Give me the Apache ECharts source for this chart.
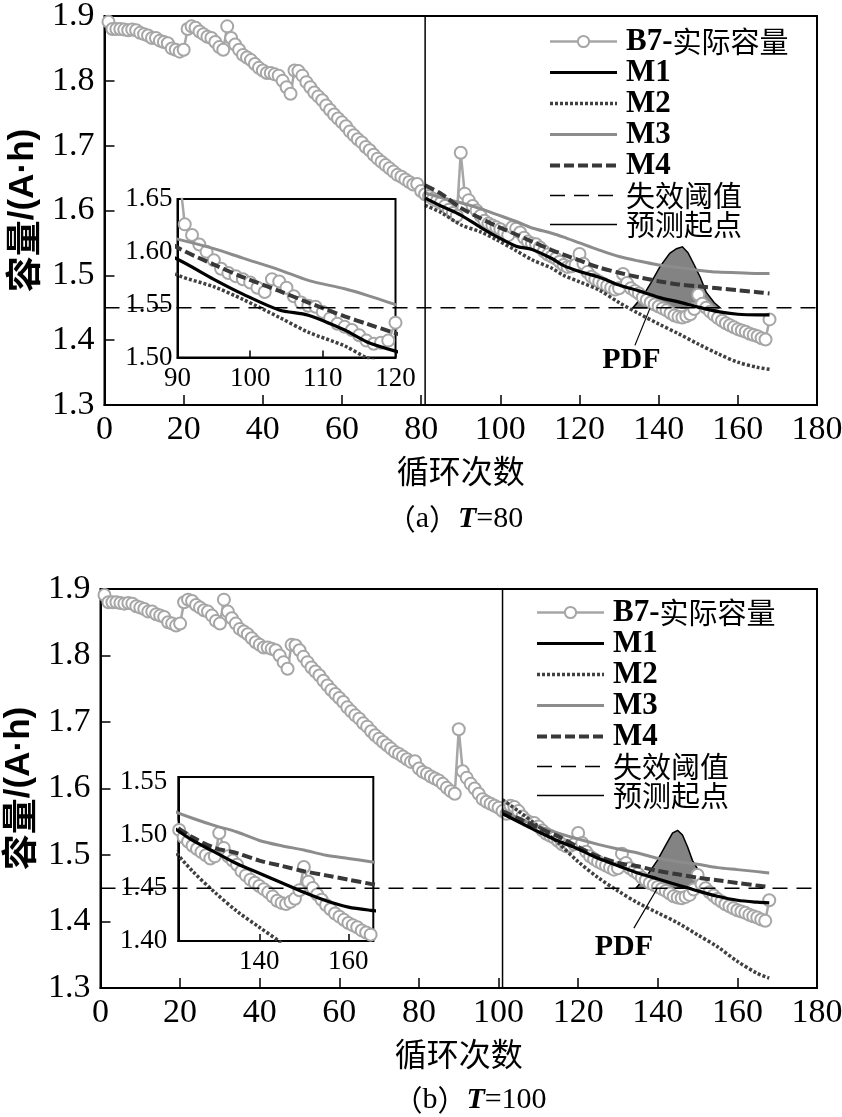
<!DOCTYPE html>
<html><head><meta charset="utf-8">
<script src="https://cdn.jsdelivr.net/npm/echarts@6.0.0/dist/echarts.min.js"></script>
<style>html,body{margin:0;padding:0;background:#fff}#c{width:842px;height:1117px}</style>
</head><body><div id="c"></div>
<script>
// ---- data ----
const names = ['B7-实际容量','M1','M2','M3','M4','失效阈值','预测起点'];
const threshold = 1.45;
const startA = 81, startB = 101;
// measured capacity of B7, cycles 1..168
const capacity = [
1.891,1.880,1.880,1.880,1.879,1.878,1.879,1.878,1.874,1.872,
1.870,1.866,1.866,1.862,1.860,1.858,1.850,1.848,1.845,1.848,
1.880,1.884,1.882,1.876,1.872,1.868,1.866,1.860,1.852,1.848,
1.884,1.866,1.856,1.848,1.840,1.836,1.832,1.826,1.820,1.816,
1.812,1.812,1.810,1.808,1.800,1.790,1.780,1.816,1.815,1.808,
1.798,1.790,1.782,1.776,1.770,1.762,1.755,1.748,1.742,1.736,
1.730,1.722,1.716,1.710,1.705,1.698,1.693,1.686,1.680,1.675,
1.670,1.665,1.660,1.655,1.652,1.648,1.644,1.640,1.641,1.630,
1.625,1.622,1.618,1.615,1.612,1.607,1.601,1.596,1.592,1.689,
1.626,1.616,1.607,1.600,1.592,1.584,1.580,1.577,1.574,1.571,
1.566,1.562,1.574,1.572,1.566,1.558,1.552,1.549,1.548,1.543,
1.537,1.532,1.529,1.526,1.521,1.516,1.513,1.514,1.516,1.533,
1.518,1.505,1.498,1.494,1.490,1.487,1.484,1.481,1.478,1.480,
1.502,1.488,1.480,1.476,1.472,1.466,1.462,1.458,1.455,1.452,
1.449,1.446,1.442,1.438,1.436,1.435,1.437,1.440,1.448,1.470,
1.456,1.450,1.444,1.439,1.434,1.430,1.426,1.423,1.420,1.417,
1.415,1.413,1.410,1.408,1.406,1.403,1.401,1.432];

// (a) T=80 predictions
const predCyclesA = [81,85,90,95,99,104,108,113,116,120,125,130,135,140,145,150,155,160,165,168];
const m1A = [1.619,1.607,1.593,1.574,1.560,1.545,1.540,1.526,1.515,1.506,1.497,1.485,1.476,1.466,1.459,1.451,1.444,1.440,1.439,1.439];
const m2A = [1.608,1.597,1.578,1.567,1.555,1.538,1.524,1.511,1.500,1.490,1.477,1.458,1.441,1.425,1.410,1.394,1.379,1.366,1.358,1.355];
const m3A = [1.627,1.620,1.612,1.603,1.594,1.583,1.573,1.565,1.559,1.550,1.539,1.529,1.522,1.516,1.512,1.508,1.505,1.504,1.503,1.503];
const m4A = [1.639,1.626,1.604,1.588,1.576,1.563,1.552,1.539,1.532,1.523,1.512,1.504,1.497,1.491,1.486,1.483,1.480,1.477,1.474,1.472];
const pdfCyclesA = [133.5,136,138,140.3,142.8,144.5,146,147.4,149,150.5,152,154,155.5];
const pdfHeightA = [0,0.018,0.038,0.063,0.084,0.091,0.094,0.085,0.066,0.047,0.024,0.008,0];

// (b) T=100 predictions
const predCyclesB = [101,105,110,115,120,125,130,135,140,145,150,155,160,165,168];
const m1B = [1.562,1.550,1.535,1.521,1.509,1.495,1.484,1.473,1.464,1.455,1.446,1.438,1.432,1.429,1.428];
const m2B = [1.583,1.566,1.543,1.518,1.490,1.466,1.446,1.428,1.413,1.398,1.380,1.362,1.340,1.322,1.315];
const m3B = [1.565,1.555,1.543,1.533,1.524,1.516,1.509,1.503,1.495,1.490,1.486,1.481,1.478,1.475,1.473];
const m4B = [1.566,1.555,1.541,1.528,1.512,1.498,1.488,1.483,1.476,1.471,1.466,1.462,1.458,1.454,1.452];
const pdfCyclesB = [134.5,137.4,139.9,142.0,143.7,145.0,146.2,147.5,148.7,150.4,152.1];
const pdfHeightB = [0,0.020,0.042,0.065,0.083,0.087,0.080,0.062,0.042,0.025,0];

// tick labels
const mainXTicks = [0,20,40,60,80,100,120,140,160,180];
const mainYTicks = [1.3,1.4,1.5,1.6,1.7,1.8,1.9];
const insetBXTicks = [140,160];
const insetBYTicks = [1.40,1.45,1.50,1.55];

// ---- styles ----
const SERIF = 'Liberation Serif', CJK = 'Noto Sans CJK SC', SANS = 'Liberation Sans';
const C_B7 = '#a6a6a6', C_M1 = '#000', C_M2 = '#404040', C_M3 = '#8c8c8c', C_M4 = '#383838';

const chart = echarts.init(document.getElementById('c'), null, {renderer:'canvas'});

const grids = [
  {left:104.5, top:16, width:712.5, height:389},
  {left:177.5, top:199, width:218, height:158.5},
  {left:100.5, top:589, width:716.5, height:399},
  {left:178.3, top:777, width:195, height:164}
].map(g => Object.assign({show:true, borderColor:'#000', borderWidth:2, backgroundColor:'transparent', outerBoundsMode:'none'}, g));

function mainX(gi){
  return {type:'value', gridIndex:gi, min:mainXTicks[0], max:mainXTicks[mainXTicks.length-1], interval:20,
    axisLine:{onZero:false, lineStyle:{color:'#000', width:2}},
    axisTick:{inside:true, length:10, lineStyle:{color:'#000', width:1.5}},
    axisLabel:{fontFamily:SERIF, fontSize:34, color:'#000', margin:8},
    splitLine:{show:false},
    name:'循环次数', nameLocation:'middle', nameGap:50,
    nameTextStyle:{fontFamily:CJK, fontSize:32, color:'#000'}};
}
function mainY(gi){
  return {type:'value', gridIndex:gi, min:mainYTicks[0], max:mainYTicks[mainYTicks.length-1], interval:0.1,
    axisLine:{onZero:false, lineStyle:{color:'#000', width:2}},
    axisTick:{inside:true, length:10, lineStyle:{color:'#000', width:1.5}},
    axisLabel:{fontFamily:SERIF, fontSize:34, color:'#000', margin:10, formatter:v=>v.toFixed(1)},
    splitLine:{show:false},
    name:'{c|容量}{l|/(A·h)}', nameLocation:'middle', nameRotate:90, nameGap:60,
    nameTextStyle:{color:'#000', rich:{
      c:{fontFamily:CJK, fontSize:36, fontWeight:'bold', color:'#000'},
      l:{fontFamily:SANS, fontSize:35, fontWeight:'bold', color:'#000'}}}};
}
const insetLabel = {fontFamily:SERIF, fontSize:27, color:'#000'};

const xAxes = [
  mainX(0),
  {type:'value', gridIndex:1, min:90, max:120, interval:10,
    axisLine:{onZero:false, lineStyle:{color:'#000', width:2}},
    axisTick:{inside:true, length:7, lineStyle:{color:'#000', width:1.5}},
    axisLabel:Object.assign({margin:8}, insetLabel), splitLine:{show:false}},
  mainX(2),
  {type:'value', gridIndex:3, min:121.8, max:165.6,
    axisLine:{onZero:false, lineStyle:{color:'#000', width:2}},
    axisTick:{inside:true, length:7, customValues:insetBXTicks, lineStyle:{color:'#000', width:1.5}},
    axisLabel:Object.assign({margin:7, customValues:insetBXTicks}, insetLabel), splitLine:{show:false}}
];
const yAxes = [
  mainY(0),
  {type:'value', gridIndex:1, min:1.50, max:1.65, interval:0.05,
    axisLine:{onZero:false, lineStyle:{color:'#000', width:2}},
    axisTick:{show:false},
    axisLabel:Object.assign({margin:5, formatter:v=>v.toFixed(2)}, insetLabel), splitLine:{show:false}},
  mainY(2),
  {type:'value', gridIndex:3, min:1.40, max:1.555,
    axisLine:{onZero:false, lineStyle:{color:'#000', width:2}},
    axisTick:{show:false},
    axisLabel:Object.assign({margin:11, customValues:insetBYTicks, formatter:v=>v.toFixed(2)}, insetLabel), splitLine:{show:false}}
];

function pair(xs, ys){ return xs.map((x,i)=>[x, ys[i]]); }
const capData = capacity.map((v,i)=>[i+1, v]);

function b7Series(xi){
  return {name:names[0], type:'line', xAxisIndex:xi, yAxisIndex:xi, data:capData, z:3,
    symbol:'emptyCircle', symbolSize:12, showSymbol:true,
    lineStyle:{color:C_B7, width:2.5}, itemStyle:{color:C_B7, borderColor:C_B7, borderWidth:2.5}};
}
const hideSym = {opacity:0};
function modelSeries(xi, cyc, m1, m2, m3, m4){
  return [
    {name:names[3], type:'line', xAxisIndex:xi, yAxisIndex:xi, data:pair(cyc,m3), z:4, symbol:'none', smooth:0.3,
      lineStyle:{color:C_M3, width:3}, itemStyle:Object.assign({color:C_M3}, hideSym)},
    {name:names[2], type:'line', xAxisIndex:xi, yAxisIndex:xi, data:pair(cyc,m2), z:4, symbol:'none', smooth:0.3,
      lineStyle:{color:C_M2, width:3.5, type:[3,2]}, itemStyle:Object.assign({color:C_M2}, hideSym)},
    {name:names[4], type:'line', xAxisIndex:xi, yAxisIndex:xi, data:pair(cyc,m4), z:5, symbol:'none', smooth:0.3,
      lineStyle:{color:C_M4, width:4, type:[10,4]}, itemStyle:Object.assign({color:C_M4}, hideSym)},
    {name:names[1], type:'line', xAxisIndex:xi, yAxisIndex:xi, data:pair(cyc,m1), z:6, symbol:'none', smooth:0.3,
      lineStyle:{color:C_M1, width:3.2}, itemStyle:Object.assign({color:C_M1}, hideSym)}
  ];
}
function pdfSeries(xi, cyc, h){
  return {type:'custom', xAxisIndex:xi, yAxisIndex:xi, z:2, silent:true,
    data:[[cyc[0], threshold]],
    renderItem:(params, api)=>{
      const pts = cyc.map((c,i)=>api.coord([c, threshold + h[i]]));
      return {type:'polygon', shape:{points:pts}, style:{fill:'#838383', stroke:'#000', lineWidth:1.5}};
    }};
}
function refSeries(xi, tStart){
  return [
    {name:names[5], type:'line', xAxisIndex:xi, yAxisIndex:xi, z:7, symbol:'none',
      data:[[mainXTicks[0], threshold],[mainXTicks[mainXTicks.length-1], threshold]],
      lineStyle:{color:'#000', width:1.5, type:[15,9]}, itemStyle:Object.assign({color:'#000'}, hideSym)},
    {name:names[6], type:'line', xAxisIndex:xi, yAxisIndex:xi, z:7, symbol:'none',
      data:[[tStart, mainYTicks[0]],[tStart, mainYTicks[mainYTicks.length-1]]],
      lineStyle:{color:'#000', width:1.5}, itemStyle:Object.assign({color:'#000'}, hideSym)}
  ];
}

const series = [].concat(
  pdfSeries(0, pdfCyclesA, pdfHeightA), b7Series(0), modelSeries(0, predCyclesA, m1A, m2A, m3A, m4A), refSeries(0, startA),
  b7Series(1), modelSeries(1, predCyclesA, m1A, m2A, m3A, m4A),
  pdfSeries(2, pdfCyclesB, pdfHeightB), b7Series(2), modelSeries(2, predCyclesB, m1B, m2B, m3B, m4B), refSeries(2, startB),
  b7Series(3), modelSeries(3, predCyclesB, m1B, m2B, m3B, m4B)
);

function legendFmt(name){
  if (name === 'B7-实际容量') return '{s|}{l|B7-}{c|实际容量}';
  if (/^M/.test(name)) return '{s|}{l|' + name + '}';
  return '{s|}{c|' + name + '}';
}
function legend(left, top, lh){
  return {left:left, top:top, orient:'vertical', itemWidth:67, itemHeight:14, itemGap:0,
    data:names, selectedMode:false, formatter:legendFmt,
    lineStyle:{width:'inherit', type:'inherit', color:'inherit'},
    textStyle:{color:'#000', rich:{
      s:{width:4},
      l:{fontFamily:SERIF, fontWeight:'bold', fontSize:31, lineHeight:lh, color:'#000'},
      c:{fontFamily:CJK, fontSize:29, lineHeight:lh, color:'#000'}}}};
}

chart.setOption({
  animation:false,
  backgroundColor:'#fff',
  grid:grids, xAxis:xAxes, yAxis:yAxes,
  legend:[legend(543, 21, 30), legend(530, 592, 31)],
  series:series
});

// annotations anchored in data coordinates
const pdfLabelA = {text:[133.1, 1.369], from:[134.0, 1.392], to:[137.8, 1.449]};
const pdfLabelB = {text:[131.5, 1.362], from:[134.0, 1.390], to:[139.9, 1.450]};
function annot(gi, a){
  const t = chart.convertToPixel({gridIndex:gi}, a.text);
  const f = chart.convertToPixel({gridIndex:gi}, a.from);
  const e = chart.convertToPixel({gridIndex:gi}, a.to);
  return [
    {type:'line', z:100, shape:{x1:f[0], y1:f[1], x2:e[0], y2:e[1]}, style:{stroke:'#000', lineWidth:1.2}},
    {type:'text', z:100, x:t[0], y:t[1], style:{text:'PDF', font:'bold 30px "Liberation Serif"', fill:'#000', align:'center', verticalAlign:'middle'}}
  ];
}
function caption(x, y, letter, tval){
  return {type:'text', z:100, x:x, y:y, style:{
    text:'{c|（' + '}{a|' + letter + '}{c|）}{t|T}{n|=' + tval + '}',
    align:'center', verticalAlign:'middle',
    rich:{
      c:{fontFamily:CJK, fontSize:29, fill:'#000'},
      a:{fontFamily:SERIF, fontSize:30, fill:'#000'},
      t:{fontFamily:SERIF, fontSize:30, fontStyle:'italic', fontWeight:'bold', fill:'#000'},
      n:{fontFamily:SERIF, fontSize:30, fill:'#000'}
    }}};
}
chart.setOption({graphic:[].concat(
  annot(0, pdfLabelA), annot(2, pdfLabelB),
  [caption(455, 519, 'a', startA - 1), caption(470, 1100, 'b', startB - 1)]
)});
</script></body></html>
